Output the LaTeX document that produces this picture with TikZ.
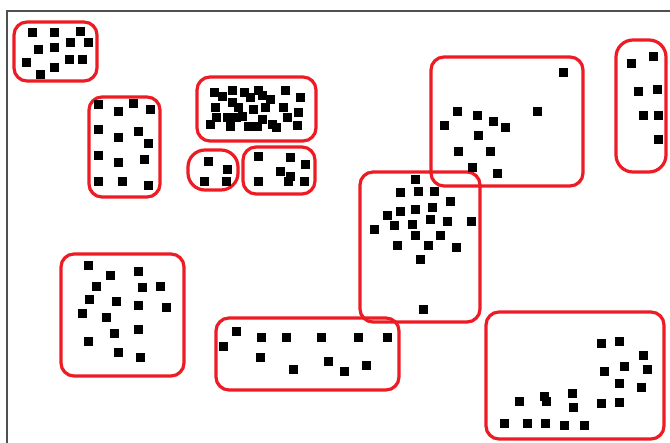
\documentclass[tikz,border=0pt]{standalone}
\definecolor{paintred}{HTML}{ED1C24}
\definecolor{framegray}{HTML}{505050}
\tikzset{
  grp/.style={draw=paintred, line width=3.2pt, rounded corners=13pt},
  grpround/.style={draw=paintred, line width=3.2pt, rounded corners=17pt},
  dot/.style={fill=black},
  framestyle/.style={draw=framegray, line width=1.8pt}
}
\newcommand{\sq}[2]{\fill[dot] (#1-4.5,#2-4.5) rectangle ++(9,9);}
\begin{document}
\begin{tikzpicture}[x=1pt,y=-1pt]
\useasboundingbox (0,0) rectangle (670,443);
\fill[white] (0,0) rectangle (670,443);
\draw[framestyle] (7,445) -- (7,11) -- (672,11);

% group boxes
\draw[grp] (14,22) rectangle (97,81);
\draw[grp] (89,97) rectangle (160,197);
\draw[grp] (197,77) rectangle (316,141);
\draw[grpround] (188,150) rectangle (238,190);
\draw[grp] (243,147) rectangle (315,194);
\draw[grp] (431,57) rectangle (583,186);
\draw[grpround] (616,40) rectangle (666,172);
\draw[grp] (360,172) rectangle (480,322);
\draw[grp] (61,254) rectangle (184,376);
\draw[grp] (216,318) rectangle (399,390);
\draw[grp] (486,312) rectangle (664,439);

% box 1
\foreach \x/\y in {32/33,54/33,80/32,70/43,88/43,38/50,54/48,26/63,69/60,82/60,54/68,40/75}{\sq{\x}{\y}}
% box 2
\foreach \x/\y in {98/105,133/104,150/110,118/112,98/130,138/132,118/138,148/144,98/156,118/163,144/160,98/182,122/182,148/186}{\sq{\x}{\y}}
% box 3 (dense)
\foreach \x/\y in {214/93,232/91,232/103,258/91,250/98,270/100,285/91,300/98,215/108,238/108,253/110,283/108,210/125,227/118,242/117,248/127,262/120,272/125,287/118,298/113,297/126,230/127,257/127,222/97,244/93,265/108,236/118,276/128,216/118,262/96}{\sq{\x}{\y}}
% box 4
\foreach \x/\y in {208/162,227/170,204/182,226/182}{\sq{\x}{\y}}
% box 5
\foreach \x/\y in {258/157,290/158,305/165,280/172,290/177,258/182,288/182,304/182}{\sq{\x}{\y}}
% box 6
\foreach \x/\y in {563/73,457/112,477/116,537/112,493/122,444/126,505/128,478/136,458/152,490/152,472/168,497/174}{\sq{\x}{\y}}
% box 7
\foreach \x/\y in {631/64,653/57,638/92,657/90,643/116,658/116,658/140}{\sq{\x}{\y}}
% box 8
\foreach \x/\y in {415/180,400/193,418/192,434/192,450/202,387/216,400/212,415/210,432/208,430/220,447/222,471/222,374/230,394/226,412/225,415/236,440/236,397/246,428/246,456/248,420/260,423/310}{\sq{\x}{\y}}
% box 9
\foreach \x/\y in {88/266,110/276,138/272,96/287,142/288,160/287,89/300,116/302,138/306,166/308,82/314,106/318,114/334,138/330,88/342,118/353,140/358}{\sq{\x}{\y}}
% box 10
\foreach \x/\y in {236/332,223/347,261/338,286/338,321/338,358/338,387/338,260/358,328/362,366/366,293/370,344/372}{\sq{\x}{\y}}
% box 11
\foreach \x/\y in {601/344,619/342,643/356,624/367,647/370,604/372,619/384,641/388,519/402,544/397,546/402,572/394,573/408,601/404,619/403,504/424,527/424,545/424,564/426,584/426}{\sq{\x}{\y}}
\end{tikzpicture}
\end{document}
